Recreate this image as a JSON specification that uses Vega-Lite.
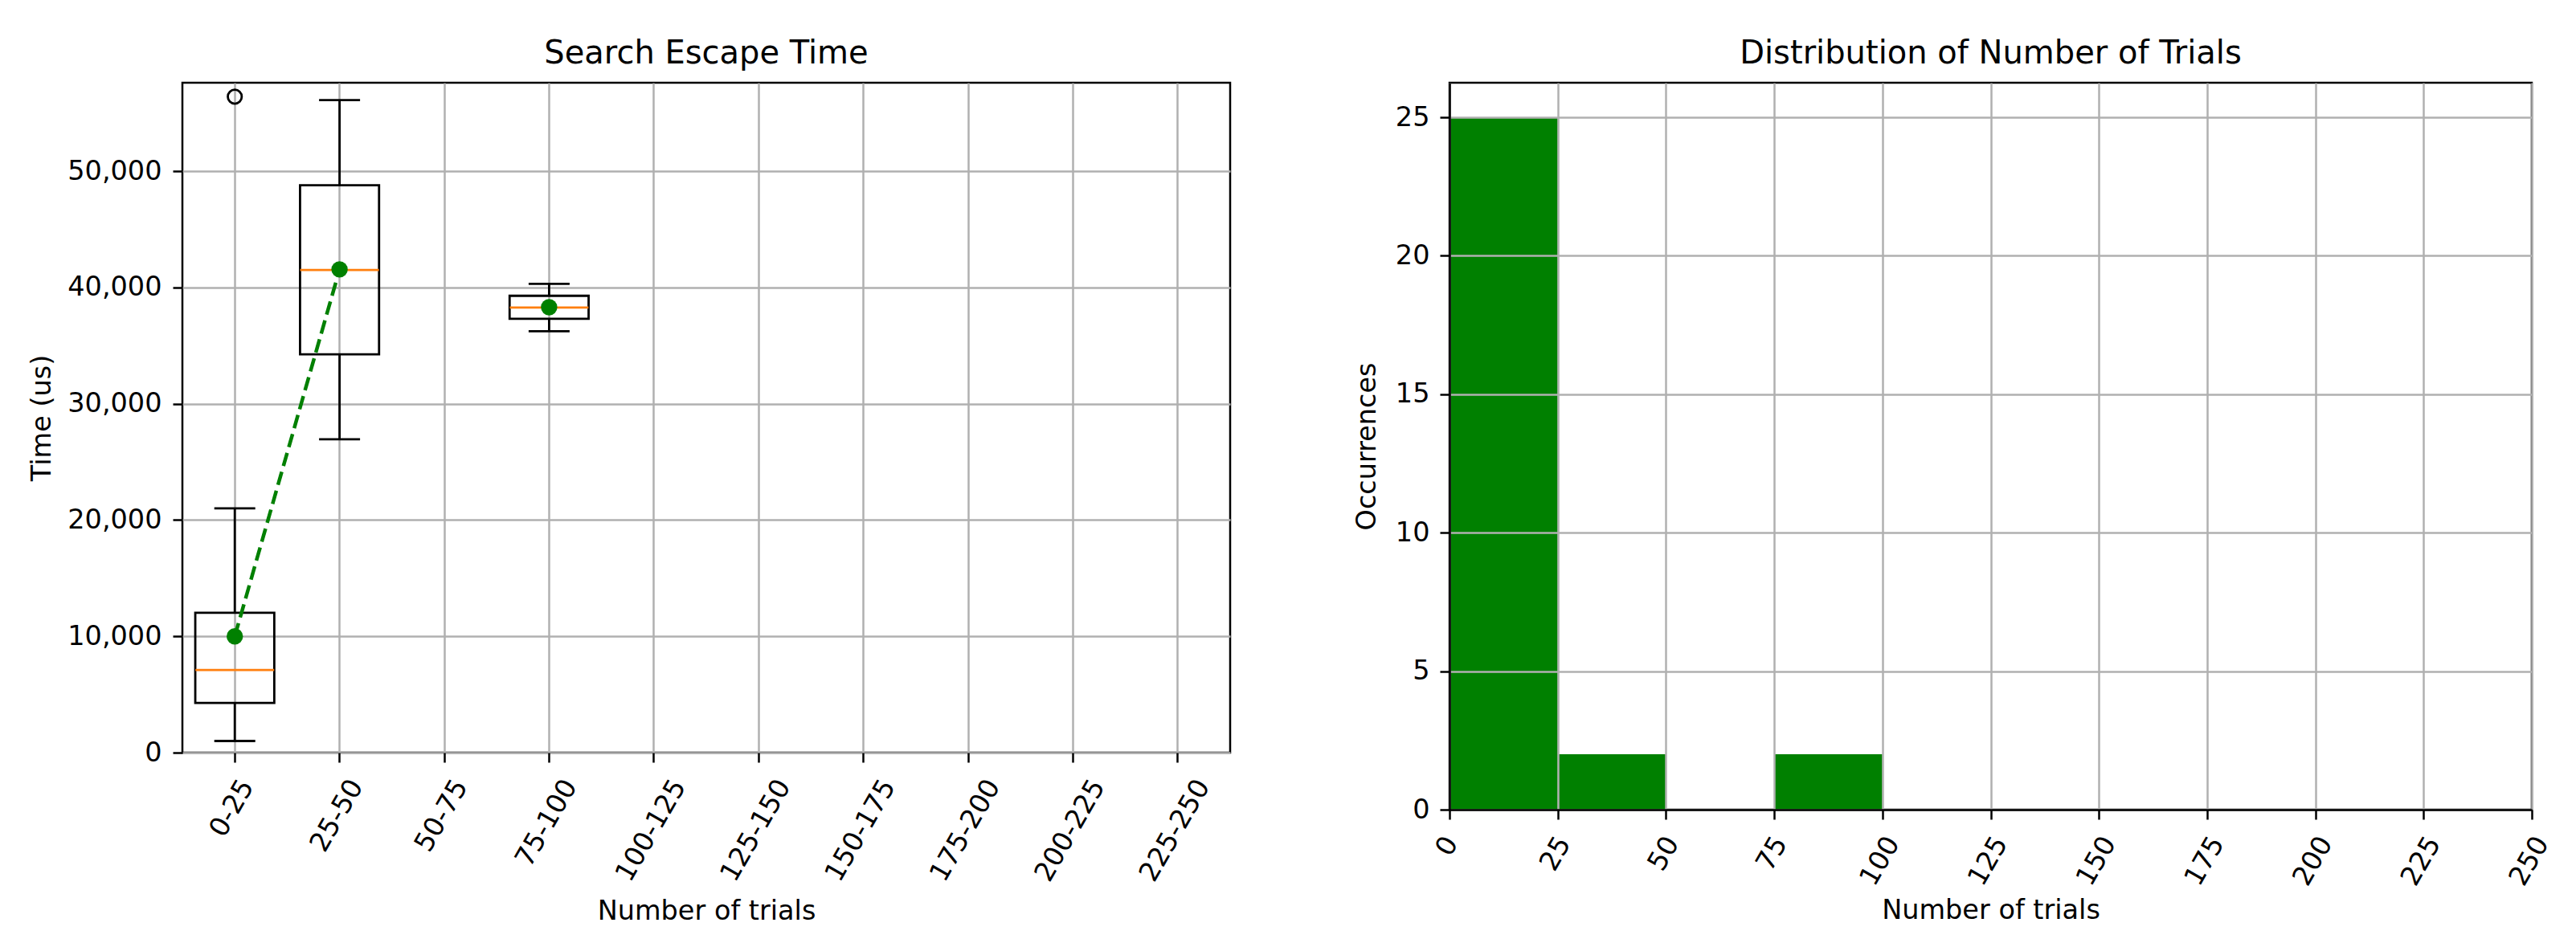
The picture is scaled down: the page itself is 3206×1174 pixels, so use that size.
{
  "$schema": "https://vega.github.io/schema/vega-lite/v6.json",
  "background": "white",
  "padding": {"left": 34, "top": 45, "right": 46, "bottom": 15},
  "spacing": 150,
  "config": {
    "font": "DejaVu Sans",
    "view": {"stroke": "black", "strokeWidth": 2.5},
    "axis": {
      "labelFontSize": 33.5,
      "titleFontSize": 33.5,
      "labelColor": "black",
      "titleColor": "black",
      "titleFontWeight": "normal",
      "tickColor": "black",
      "tickSize": 12,
      "tickWidth": 2.5,
      "gridColor": "#b0b0b0",
      "gridWidth": 2.5,
      "gridOpacity": 1,
      "domain": false,
      "labelPadding": 14,
      "labelOverlap": false,
      "labelFlush": false
    },
    "title": {"fontSize": 40, "fontWeight": "normal", "color": "black", "frame": "group", "anchor": "middle", "baseline": "alphabetic", "offset": 16}
  },
  "datasets": {
    "boxes": [
      {"bin": "0-25", "lo": 1000, "q1": 4270, "med": 7100, "q3": 12030, "hi": 21000, "mean": 10000},
      {"bin": "25-50", "lo": 26950, "q1": 34250, "med": 41500, "q3": 48780, "hi": 56100, "mean": 41550},
      {"bin": "75-100", "lo": 36240, "q1": 37300, "med": 38270, "q3": 39280, "hi": 40310, "mean": 38300}
    ],
    "outliers": [
      {"bin": "0-25", "value": 56400}
    ],
    "hist": [
      {"start": 0, "end": 25, "count": 25},
      {"start": 25, "end": 50, "count": 2},
      {"start": 50, "end": 75, "count": 0},
      {"start": 75, "end": 100, "count": 2},
      {"start": 100, "end": 125, "count": 0},
      {"start": 125, "end": 150, "count": 0},
      {"start": 150, "end": 175, "count": 0},
      {"start": 175, "end": 200, "count": 0},
      {"start": 200, "end": 225, "count": 0},
      {"start": 225, "end": 250, "count": 0}
    ]
  },
  "hconcat": [
    {
      "title": "Search Escape Time",
      "width": 1304,
      "height": 834,
      "data": {"name": "boxes"},
      "encoding": {
        "x": {
          "field": "bin",
          "type": "nominal",
          "sort": null,
          "scale": {"type": "band", "domain": ["0-25", "25-50", "50-75", "75-100", "100-125", "125-150", "150-175", "175-200", "200-225", "225-250"], "paddingInner": 0, "paddingOuter": 0},
          "axis": {
            "title": "Number of trials",
            "labelAngle": -60,
            "labelAlign": "right",
            "labelBaseline": "top",
            "labelPadding": 16,
            "labelOffset": {"condition": [
              {"test": "length(datum.label) == 4", "value": 2},
              {"test": "length(datum.label) == 5", "value": 7.5},
              {"test": "length(datum.label) == 6", "value": 13}
            ], "value": 18},
            "titlePadding": 16,
            "grid": true
          }
        }
      },
      "layer": [
        {
          "mark": {"type": "rule", "color": "black", "strokeWidth": 2.8},
          "encoding": {
            "y": {"field": "lo", "type": "quantitative", "scale": {"domain": [0, 57600], "nice": false, "zero": false},
              "axis": {"title": "Time (us)", "values": [0, 10000, 20000, 30000, 40000, 50000], "labelExpr": "format(datum.value, ',')", "grid": true, "titlePadding": 14}},
            "y2": {"field": "q1"}
          }
        },
        {
          "mark": {"type": "rule", "color": "black", "strokeWidth": 2.8},
          "encoding": {
            "y": {"field": "q3", "type": "quantitative"},
            "y2": {"field": "hi"}
          }
        },
        {
          "mark": {"type": "tick", "orient": "horizontal", "color": "black", "size": 51, "thickness": 2.8, "opacity": 1},
          "encoding": {"y": {"field": "lo", "type": "quantitative"}}
        },
        {
          "mark": {"type": "tick", "orient": "horizontal", "color": "black", "size": 51, "thickness": 2.8, "opacity": 1},
          "encoding": {"y": {"field": "hi", "type": "quantitative"}}
        },
        {
          "mark": {"type": "bar", "fill": "transparent", "stroke": "black", "strokeWidth": 2.8, "width": {"band": 0.754}},
          "encoding": {
            "y": {"field": "q1", "type": "quantitative"},
            "y2": {"field": "q3"}
          }
        },
        {
          "mark": {"type": "tick", "orient": "horizontal", "color": "#ff7f0e", "size": 98, "thickness": 2.8, "opacity": 1},
          "encoding": {"y": {"field": "med", "type": "quantitative"}}
        },
        {
          "transform": [{"filter": "datum.bin == '0-25' || datum.bin == '25-50'"}],
          "mark": {"type": "line", "color": "#008000", "strokeWidth": 4.5, "strokeDash": [17, 7.5]},
          "encoding": {"y": {"field": "mean", "type": "quantitative"}}
        },
        {
          "mark": {"type": "point", "filled": true, "color": "#008000", "size": 415, "opacity": 1},
          "encoding": {"y": {"field": "mean", "type": "quantitative"}}
        },
        {
          "data": {"name": "outliers"},
          "mark": {"type": "point", "filled": false, "color": "black", "size": 300, "strokeWidth": 2.8, "opacity": 1},
          "encoding": {"y": {"field": "value", "type": "quantitative"}}
        }
      ]
    },
    {
      "title": "Distribution of Number of Trials",
      "width": 1347,
      "height": 905,
      "data": {"name": "hist"},
      "mark": {"type": "bar", "color": "#008000"},
      "encoding": {
        "x": {
          "field": "start",
          "type": "quantitative",
          "scale": {"domain": [0, 250], "nice": false, "zero": false},
          "axis": {
            "title": "Number of trials",
            "values": [0, 25, 50, 75, 100, 125, 150, 175, 200, 225, 250],
            "labelAngle": -60,
            "labelAlign": "right",
            "labelBaseline": "top",
            "labelPadding": 16,
            "labelOffset": {"condition": [
              {"test": "length(datum.label) == 1", "value": -11.5},
              {"test": "length(datum.label) == 2", "value": -6}
            ], "value": -1},
            "titlePadding": 10,
            "zindex": 1,
            "domain": true,
            "domainColor": "black",
            "domainWidth": 2.5
          }
        },
        "x2": {"field": "end"},
        "y": {
          "field": "count",
          "type": "quantitative",
          "scale": {"domain": [0, 26.25], "nice": false},
          "axis": {
            "title": "Occurrences",
            "values": [0, 5, 10, 15, 20, 25],
            "zindex": 1,
            "domain": true,
            "domainColor": "black",
            "domainWidth": 2.5,
            "labelPadding": 13,
            "titlePadding": 18
          }
        },
        "y2": {"datum": 0}
      }
    }
  ]
}
